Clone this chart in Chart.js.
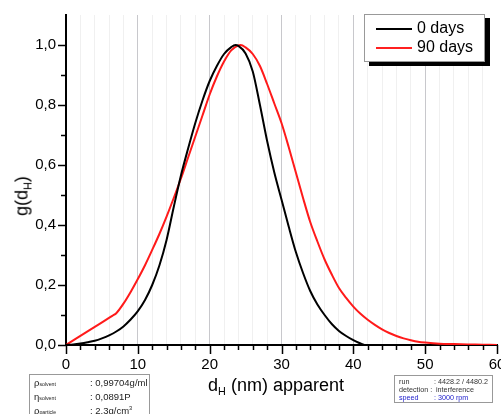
<!DOCTYPE html>
<html>
<head>
<meta charset="utf-8">
<script src="https://cdn.jsdelivr.net/npm/chart.js@4.4.1/dist/chart.umd.min.js"></script>
<style>
  body { margin: 0; background: #fff; font-family: 'Liberation Sans', Arial, sans-serif; }
  #wrap { position: relative; width: 501px; height: 414px; overflow: hidden; }
  #chart { position: absolute; left: 0; top: 0; }
  .ytitle { position: absolute; left: 22px; top: 196px; font-size: 18px; white-space: nowrap;
    transform: translate(-50%, -50%) rotate(-90deg); }
  .xtitle { position: absolute; left: 276px; top: 375px; font-size: 18px; white-space: nowrap;
    transform: translateX(-50%); }
  sub { font-size: 60%; vertical-align: -0.35em; line-height: 0; }
  .legend { position: absolute; left: 364px; top: 14px; width: 119px; height: 46px; background: #fff;
    border: 1px solid #999; box-shadow: 5px 4px 0 #000; font-size: 16px; }
  .legend div { position: absolute; left: 11px; height: 18px; line-height: 18px; white-space: nowrap; }
  .legend span { display: inline-block; width: 36px; height: 2px; vertical-align: middle; margin-right: 5px; }
  .box { position: absolute; background: #fff; border: 1px solid #999; white-space: nowrap; }
  .box div { position: absolute; }
  .left { left: 29px; top: 374px; width: 119px; height: 48px; font-size: 9.5px; color: #222; }
  .right { left: 394px; top: 375px; width: 97px; height: 26px; font-size: 7.2px; color: #333; }
  small { font-size: 55%; }
</style>
</head>
<body>
<div id="wrap">
  <canvas id="chart" width="501" height="414"></canvas>
  <div class="ytitle">g(d<sub>H</sub>)</div>
  <div class="xtitle">d<sub>H</sub> (nm) apparent</div>
  <div class="legend">
    <div style="top:4px"><span style="background:#000"></span>0 days</div>
    <div style="top:23px"><span style="background:#ff2020"></span>90 days</div>
  </div>
  <div class="box left">
    <div style="left:4px;top:2px">ρ<small>solvent</small></div><div style="left:60px;top:2px">: 0,99704g/ml</div>
    <div style="left:4px;top:16px">η<small>solvent</small></div><div style="left:60px;top:16px">: 0,0891P</div>
    <div style="left:4px;top:30px">ρ<small>particle</small></div><div style="left:60px;top:30px">: 2,3g/cm<sup style="font-size:60%">3</sup></div>
  </div>
  <div class="box right">
    <div style="left:4px;top:1px">run</div><div style="left:39px;top:1px">: 4428.2 / 4480.2</div>
    <div style="left:4px;top:9px">detection :</div><div style="left:41px;top:9px">interference</div>
    <div style="left:4px;top:17px;color:#2222cc">speed</div><div style="left:39px;top:17px;color:#2222cc">: 3000 rpm</div>
  </div>
</div>
<script>
'use strict';

// d_H (nm) and g(d_H)
let days0Size = [0, 1, 2, 3, 4, 5, 6, 7, 8, 9, 10, 11, 12, 13, 14, 15, 16, 17, 18, 19, 20, 21, 22, 23, 23.6,
  24, 25, 26, 27, 28, 29, 30, 31, 32, 33, 34, 35, 36, 37, 38, 39, 40, 41, 41.5];
let days0Value = [0, 0.002, 0.005, 0.009, 0.014, 0.022, 0.032, 0.045, 0.062, 0.085, 0.113, 0.15, 0.2, 0.265, 0.35,
  0.46, 0.565, 0.655, 0.74, 0.815, 0.88, 0.93, 0.97, 0.993, 1.0,
  0.997, 0.972, 0.912, 0.8, 0.68, 0.575, 0.485, 0.395, 0.31, 0.24, 0.18, 0.135, 0.1, 0.07, 0.047, 0.03, 0.016, 0.005, 0];

let days90Size = [0, 3.5, 6.5, 7, 8, 9, 10, 11, 12, 13, 14, 15, 16, 17, 18, 19, 20, 21, 22, 23, 24, 24.3,
  25, 26, 27, 28, 29, 30, 31, 32, 33, 34, 35, 36, 37, 38, 39, 40, 41, 42, 43, 44, 45, 46, 47, 48, 49, 50,
  52, 54, 56, 58, 60];
let days90Value = [0, 0.053, 0.098, 0.106, 0.138, 0.177, 0.22, 0.266, 0.317, 0.37, 0.428, 0.49, 0.555, 0.625, 0.695,
  0.765, 0.835, 0.895, 0.945, 0.982, 0.999, 1.0,
  0.992, 0.97, 0.93, 0.87, 0.805, 0.74, 0.66, 0.575, 0.49, 0.41, 0.345, 0.285, 0.235, 0.19, 0.157, 0.128,
  0.104, 0.084, 0.067, 0.052, 0.04, 0.03, 0.022, 0.016, 0.011, 0.008,
  0.004, 0.003, 0.002, 0.001, 0];

let xMin = 0, xMax = 60, xStep = 2, xLabelEvery = 10;
let yMin = 0, yMax = 1.1, yStep = 0.1;

function toPoints(xs, ys) {
  let pts = [];
  for (let i = 0; i < xs.length; i++) {
    pts.push({ x: xs[i], y: ys[i] });
  }
  return pts;
}

// tick marks of two lengths, drawn outside the axes
const tickMarks = {
  id: 'tickMarks',
  afterDraw(chart) {
    const ctx = chart.ctx;
    const area = chart.chartArea;
    const xs = chart.scales.x;
    const ys = chart.scales.y;
    ctx.save();
    ctx.strokeStyle = '#000';
    ctx.lineWidth = 1.5;
    ctx.beginPath();
    xs.ticks.forEach(function(t) {
      const px = Math.round(xs.getPixelForValue(t.value)) + 0.5;
      const len = (t.value % xLabelEvery === 0) ? 9 : 5;
      ctx.moveTo(px, area.bottom);
      ctx.lineTo(px, area.bottom + len);
    });
    ys.ticks.forEach(function(t) {
      const n = Math.round(t.value * 10);
      if (n > 10) return;
      const py = Math.round(ys.getPixelForValue(t.value)) + 0.5;
      const len = (n % 2 === 0) ? 8 : 5;
      ctx.moveTo(area.left - len, py);
      ctx.lineTo(area.left, py);
    });
    ctx.stroke();
    ctx.restore();
  }
};

const ctx = document.getElementById('chart');
new Chart(ctx, {
  type: 'line',
  data: {
    datasets: [{
      label: '0 days',
      data: toPoints(days0Size, days0Value),
      borderColor: '#000000',
      borderWidth: 2,
      pointRadius: 0,
      cubicInterpolationMode: 'monotone',
      fill: false
    }, {
      label: '90 days',
      data: toPoints(days90Size, days90Value),
      borderColor: '#ff1a1a',
      borderWidth: 2,
      pointRadius: 0,
      cubicInterpolationMode: 'monotone',
      fill: false
    }]
  },
  options: {
    responsive: false,
    animation: false,
    layout: { padding: { left: 0, right: 4, top: 15, bottom: 0 } },
    plugins: {
      legend: { display: false },
      tooltip: { enabled: false }
    },
    scales: {
      x: {
        type: 'linear',
        min: xMin,
        max: xMax,
        border: { display: true, color: '#000', width: 2 },
        grid: {
          drawTicks: false,
          color: function(c) {
            const v = c.tick.value;
            if (v === xMin || v === xMax) return 'rgba(0,0,0,0)';
            return v % xLabelEvery === 0 ? '#c8c8cc' : '#f0f0f0';
          },
          lineWidth: 1
        },
        ticks: {
          stepSize: xStep,
          maxTicksLimit: 100,
          autoSkip: false,
          maxRotation: 0,
          padding: 11,
          color: '#000',
          font: { family: "'Liberation Sans', Arial", size: 15 },
          callback: function(v) { return v % xLabelEvery === 0 ? String(v) : ''; }
        },
        afterFit: function(scale) {
          scale.height = 69;
          scale.paddingLeft = 0;
          scale.paddingRight = 0;
        }
      },
      y: {
        min: yMin,
        max: yMax,
        border: { display: true, color: '#000', width: 2 },
        grid: { drawOnChartArea: false, drawTicks: false },
        ticks: {
          stepSize: yStep,
          maxTicksLimit: 100,
          autoSkip: false,
          padding: 10,
          color: '#000',
          font: { family: "'Liberation Sans', Arial", size: 15 },
          callback: function(v) {
            const n = Math.round(v * 10);
            if (n % 2 !== 0 || n > 10) return '';
            return (n / 10).toFixed(1).replace('.', ',');
          }
        },
        afterFit: function(scale) {
          scale.width = 66;
          scale.paddingTop = 0;
          scale.paddingBottom = 0;
        }
      }
    }
  },
  plugins: [tickMarks]
});
</script>
</body>
</html>
